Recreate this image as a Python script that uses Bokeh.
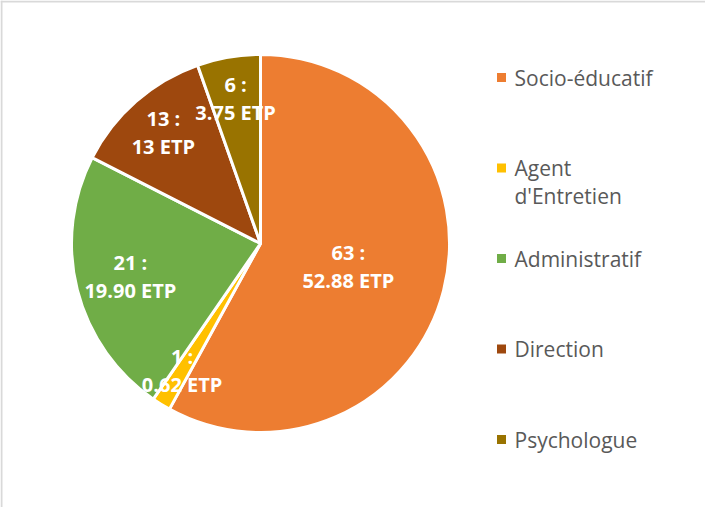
import math
from bokeh.plotting import figure
from bokeh.models import ColumnDataSource, Span
from bokeh.core.properties import value
from bokeh.embed import file_html
from bokeh.resources import INLINE

# ---- data ----
categories = ["Socio-éducatif", "Agent d'Entretien", "Administratif", "Direction", "Psychologue"]
legend_lines = [["Socio-éducatif"], ["Agent", "d'Entretien"], ["Administratif"], ["Direction"], ["Psychologue"]]
headcount = [63, 1, 21, 13, 6]
etp_labels = ["52.88", "0.62", "19.90", "13", "3.75"]
# slice shares (%) as drawn in the picture
share = [58.0, 1.6, 22.9, 12.1, 5.4]
colors = ["#ED7D31", "#FFC000", "#70AD47", "#9E480E", "#997300"]

# ---- layout ----
W, H = 705, 507
CX, CY, R = 260, 264, 189
label_rfrac = [0.48, 0.79, 0.71, 0.78, 0.78]
FONT = "Open Sans"

p = figure(width=W, height=H, output_backend="svg", toolbar_location=None,
           x_range=(0, W), y_range=(0, H), min_border=0)
p.axis.visible = False
p.grid.visible = False
p.outline_line_color = None
p.background_fill_color = "white"
p.border_fill_color = "white"

total = sum(share)
starts, ends, mids = [], [], []
cum = 0.0
for v in share:
    a0 = math.pi / 2 - 2 * math.pi * cum / total
    cum += v
    a1 = math.pi / 2 - 2 * math.pi * cum / total
    starts.append(a1)
    ends.append(a0)
    mids.append((a0 + a1) / 2)

src = ColumnDataSource(dict(x=[CX] * len(share), y=[CY] * len(share), start=starts, end=ends,
                            color=colors, name=categories))
p.wedge(x="x", y="y", radius=R, start_angle="start", end_angle="end",
        fill_color="color", line_color="white", line_width=3, source=src)

# data labels
lx, ly, t1, t2 = [], [], [], []
for i, m in enumerate(mids):
    rr = R * label_rfrac[i]
    lx.append(CX + rr * math.cos(m))
    ly.append(CY + rr * math.sin(m))
    t1.append(f"{headcount[i]} :")
    t2.append(f"{etp_labels[i]} ETP")
lab = ColumnDataSource(dict(x=lx, y=ly, t1=t1, t2=t2))
p.text(x="x", y="y", text="t1", source=lab, text_color="white", text_font=value(FONT),
       text_font_style="bold", text_font_size="20px", text_align="center",
       text_baseline="middle", y_offset=-14)
p.text(x="x", y="y", text="t2", source=lab, text_color="white", text_font=value(FONT),
       text_font_style="bold", text_font_size="20px", text_align="center",
       text_baseline="middle", y_offset=14)

# legend
LX, LY0, LSTEP, LLINE = 501, 430, 90.5, 28
mx, my, mc, tx, ty, tt = [], [], [], [], [], []
for i, lines in enumerate(legend_lines):
    y = LY0 - i * LSTEP
    mx.append(LX); my.append(y); mc.append(colors[i])
    for j, line in enumerate(lines):
        tx.append(LX + 13); ty.append(y - j * LLINE); tt.append(line)
p.scatter(x=mx, y=my, marker="square", size=9, fill_color=mc, line_color=None)
p.text(x=tx, y=ty, text=tt, text_color="#595959", text_font=value(FONT),
       text_font_size="21px", text_baseline="middle", text_align="left")

# chart area border (left and top visible)
p.add_layout(Span(location=1, dimension="height", line_color="#d9d9d9", line_width=2))
p.add_layout(Span(location=H - 1, dimension="width", line_color="#d9d9d9", line_width=2))

open("out.html", "w").write(file_html(p, INLINE))
